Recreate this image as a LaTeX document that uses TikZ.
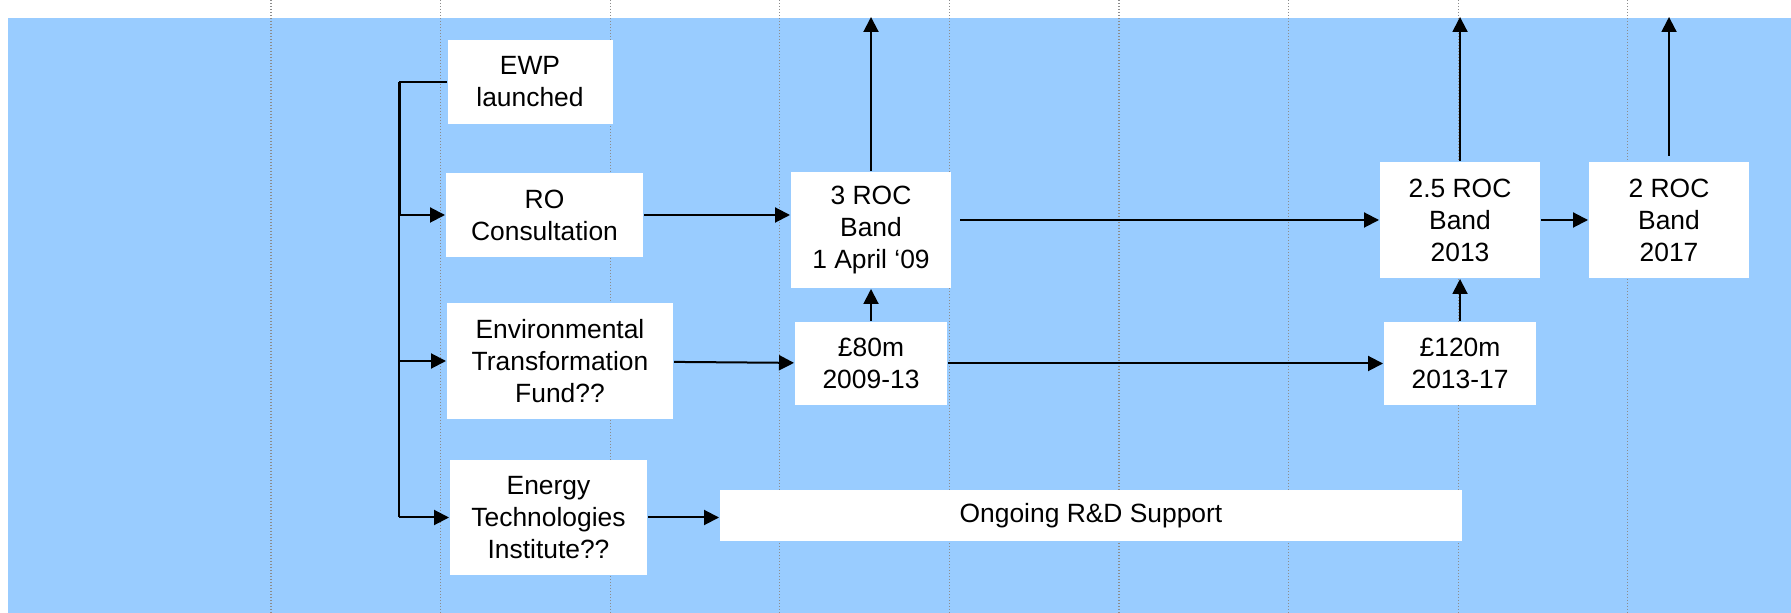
\documentclass[tikz,border=0pt]{standalone}
\usepackage{fontspec}
\setmainfont{Liberation Sans}
\usetikzlibrary{arrows.meta, positioning}

\definecolor{skyblue}{HTML}{99CCFF}
\definecolor{gridgray}{HTML}{8C8C8C}

\tikzset{
    box/.style = {rectangle, fill = white, align = center, inner sep = 0pt,
                  font = \fontsize{13.2}{16}\selectfont},
    yearline/.style = {-, gridgray, line width = 0.6pt, dash pattern = on 0.6pt off 0.9pt}
}

\begin{document}
\begin{tikzpicture}[->, > = {Triangle[length = 7.5pt, width = 7.5pt]}, x = 0.5pt, y = -0.5pt, line width = 1pt]
    \useasboundingbox (0,0) rectangle (1791,613);
    \fill[skyblue] (8,17.6) rectangle (1791,613);
    \foreach \k in {0,...,8}
        \draw[yearline] (271+169.6*\k, 0) -- (271+169.6*\k, 613);

    % left column
    \node[box, minimum width = 82.5pt, minimum height = 42pt]		(ewp)	at (530,82)		{EWP\\launched};
    \node[box, minimum width = 98.5pt, minimum height = 42pt]		(ro)	at (544.5,215)	{RO\\Consultation};
    \node[box, minimum width = 113pt, minimum height = 58pt]		(etf)	at (560,361)	{Environmental\\Transformation\\Fund??};
    \node[box, minimum width = 98.5pt, minimum height = 57.5pt]	(eti)	at (548.5,517.5)	{Energy\\Technologies\\Institute??};

    % bands and funds
    \node[box, minimum width = 80pt, minimum height = 58pt]		(roc3)	at (871,230)	{3 ROC\\Band\\1 April ‘09};
    \node[box, minimum width = 76pt, minimum height = 41.5pt]		(m80)	[below = 16pt of roc3]	{£80m\\2009-13};
    \node[box, minimum width = 80pt, minimum height = 58pt]		(roc25)	at (1460,220)	{2.5 ROC\\Band\\2013};
    \node[box, minimum width = 80pt, minimum height = 58pt]		(roc2)	[right = 23.5pt of roc25]	{2 ROC\\Band\\2017};
    \node[box, minimum width = 76pt, minimum height = 41.5pt]		(m120)	[below = 21pt of roc25]	{£120m\\2013-17};
    \node[box, minimum width = 371pt, minimum height = 25.5pt]	(rd)	at (1091,515.5)	{Ongoing R\&D Support};

    \coordinate (spine) at (399,82);
    \coordinate (top3)	at (871,17);
    \coordinate (top25)	at (1460,17);
    \coordinate (top2)	at (roc2 |- top3);

    % bracket
    \draw[-] (ewp.west) -- (spine);
    \draw[-, line width = 1.5pt] (spine) -- (spine |- ro);
    \draw[-] (spine |- ro) -- (spine |- eti);
    \foreach \n in {ro, etf, eti}
        \path (spine |- \n) edge (\n);

    \path	(ro)	edge					(ro -| roc3.west);
    \path	(roc3.east |- roc25)	edge[shorten <= 4pt]	(roc25);
    \path	(roc25)	edge					(roc2);
    \path	(etf)	edge					(m80);
    \path	(m80)	edge					(m120);
    \path	(eti)	edge					(eti -| rd.west);
    \path	(m80)	edge					(roc3);
    \path	(m120)	edge					(roc25);
    \path	(roc3)	edge					(top3);
    \path	(roc25)	edge					(top25);
    \path	(roc2)	edge[shorten <= 2.5pt]	(top2);
\end{tikzpicture}
\end{document}
